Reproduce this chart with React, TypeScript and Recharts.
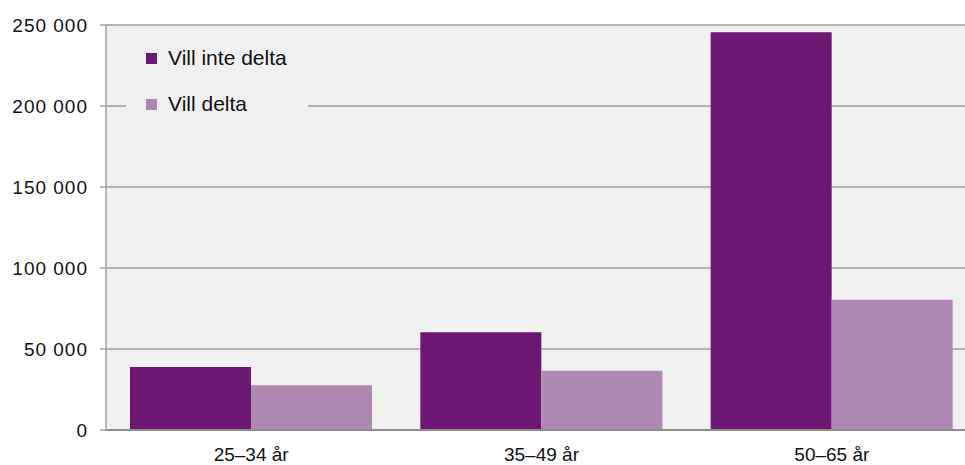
import React from 'react';
import {
  BarChart,
  Bar,
  XAxis,
  YAxis,
  CartesianGrid,
  Legend,
} from 'recharts';

const ageGroups = ['25–34 år', '35–49 år', '50–65 år'];
const villInteDelta = [38900, 60300, 245500];
const villDelta = [27600, 36600, 80400];
const yTicks = [0, 50000, 100000, 150000, 200000, 250000];

const seriesNames = ['Vill inte delta', 'Vill delta'];
const seriesColors = ['#6c1772', '#ae88b2'];

const data = ageGroups.map((group, i) => ({
  group,
  villInteDelta: villInteDelta[i],
  villDelta: villDelta[i],
}));

const fontFamily = '"Liberation Sans", Arial, sans-serif';

const formatThousands = (v: number) =>
  String(v).replace(/\B(?=(\d{3})+(?!\d))/g, ' ');

const renderLegend = () => (
  <div
    style={{
      background: '#f0f0f0',
      width: 182,
      height: 96,
      position: 'relative',
      fontFamily,
    }}
  >
    {seriesNames.map((name, i) => (
      <div
        key={name}
        style={{
          position: 'absolute',
          left: 20,
          top: 12 + i * 46,
          display: 'flex',
          alignItems: 'center',
          height: 24,
        }}
      >
        <span
          style={{
            display: 'inline-block',
            width: 11,
            height: 11,
            background: seriesColors[i],
            marginRight: 11,
          }}
        />
        <span style={{ fontSize: 21, color: '#111' }}>{name}</span>
      </div>
    ))}
  </div>
);

const App: React.FC = () => {
  return (
    <div
      style={{
        position: 'absolute',
        left: 0,
        top: 0,
        width: 965,
        height: 465,
        overflow: 'hidden',
        background: '#fff',
      }}
    >
      <BarChart
        width={985}
        height={465}
        data={data}
        margin={{ top: 25, right: 8, bottom: 5, left: 0 }}
        barCategoryGap={24}
        barGap={0}
      >
        <CartesianGrid
          vertical={false}
          stroke="#a0a0a0"
          strokeWidth={1.5}
          fill="#f0f0f0"
          fillOpacity={1}
        />
        <XAxis
          dataKey="group"
          height={30}
          tickLine={false}
          tickSize={0}
          tickMargin={18}
          axisLine={{ stroke: '#8c8c8c', strokeWidth: 2 }}
          tick={{ fontSize: 19, fill: '#111', fontFamily }}
        />
        <YAxis
          width={106}
          domain={[0, 250000]}
          ticks={yTicks}
          tickFormatter={formatThousands}
          tickSize={6}
          tickMargin={12}
          tickLine={{ stroke: '#a0a0a0', strokeWidth: 1.5 }}
          axisLine={{ stroke: '#a0a0a0', strokeWidth: 1.5 }}
          tick={{ fontSize: 19, fill: '#111', fontFamily, letterSpacing: 1 }}
        />
        <Legend
          content={renderLegend}
          layout="vertical"
          align="center"
          verticalAlign="middle"
          wrapperStyle={{ left: 126, top: 34, width: 182 }}
        />
        <Bar
          dataKey="villInteDelta"
          name={seriesNames[0]}
          fill={seriesColors[0]}
          isAnimationActive={false}
        />
        <Bar
          dataKey="villDelta"
          name={seriesNames[1]}
          fill={seriesColors[1]}
          isAnimationActive={false}
        />
      </BarChart>
    </div>
  );
};

export default App;
